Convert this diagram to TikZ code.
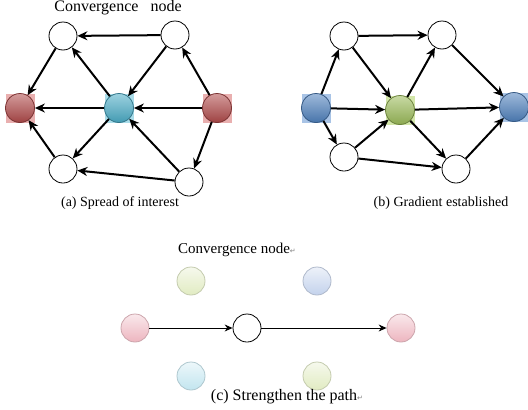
\documentclass[tikz,border=0pt]{standalone}
\usepackage{fontspec}
\setmainfont{Liberation Serif}
\newfontfamily\symfont{DejaVu Sans}
\usetikzlibrary{arrows.meta}
\definecolor{redball}{HTML}{B04A4A}
\definecolor{redsq}{HTML}{E9AFAF}
\definecolor{cyanball}{HTML}{4BACC6}
\definecolor{cyansq}{HTML}{A9DCE9}
\definecolor{blueball}{HTML}{4F81BD}
\definecolor{bluesq}{HTML}{A9C4E6}
\definecolor{greenball}{HTML}{9BBB59}
\definecolor{greensq}{HTML}{D3E6A9}
\definecolor{pinkpale}{HTML}{EDB5BF}
\definecolor{greenpale}{HTML}{E1EBC2}
\definecolor{bluepale}{HTML}{C3D2EC}
\definecolor{cyanpale}{HTML}{C2E5EF}
\newcommand{\retmark}{{\symfont\fontsize{7}{7}\selectfont\color{gray}↵}}

\begin{document}
\begin{tikzpicture}[x=1pt, y=-1pt,
      wnode/.style={draw, circle, thick, minimum size=28pt, inner sep=0pt, fill=white},
      ball/.style={draw=#1!70!black, circle, thick, minimum size=29pt, inner sep=0pt,
                   top color=#1!55!white, bottom color=#1!90!black},
      pale/.style={draw=#1!70!gray, circle, thick, minimum size=28pt, inner sep=0pt,
                   top color=#1!30!white, bottom color=#1},
      sq/.style={rectangle, minimum size=29pt, inner sep=0pt, fill=#1},
      arr/.style={-{Stealth[length=10pt, width=9pt]}, line width=2pt},
      thinarr/.style={-{Stealth[length=8pt, width=7pt]}, line width=0.9pt},
      lbl/.style={font=\fontsize{14}{16}\selectfont}
    ]
    \useasboundingbox (0,0) rectangle (528,410);

    % (a) spread of interest
    \node[sq=redsq]  (a-lsq) at (20,108)  {};
    \node[sq=cyansq] (a-csq) at (119,108) {};
    \node[sq=redsq]  (a-rsq) at (217,108) {};
    \node[wnode] (a-tl) at (63,36)   {};
    \node[wnode] (a-tr) at (175,35)  {};
    \node[ball=redball]  (a-l) at (20,108)  {};
    \node[ball=cyanball] (a-c) at (119,108) {};
    \node[ball=redball]  (a-r) at (217,108) {};
    \node[wnode] (a-bl) at (63,169)  {};
    \node[wnode] (a-br) at (189,182) {};
    \node[font=\fontsize{16}{18}\selectfont] (a-title) at (118,8) {Convergence\hspace{12pt}node};
    \node[lbl] (a-cap) at (120,203) {(a) Spread of interest};

    \draw[arr] (a-tr) -- (a-tl);
    \draw[arr] (a-tl) -- (a-l);
    \draw[arr] (a-tr) -- (a-c);
    \draw[arr] (a-c)  -- (a-tl);
    \draw[arr] (a-r)  -- (a-tr);
    \draw[arr] (a-c)  -- (a-l);
    \draw[arr] (a-r)  -- (a-c);
    \draw[arr] (a-c)  -- (a-bl);
    \draw[arr] (a-bl) -- (a-l);
    \draw[arr] (a-br) -- (a-bl);
    \draw[arr] (a-br) -- (a-c);
    \draw[arr] (a-r)  -- (a-br);

    % (b) gradient established
    \node[sq=bluesq]  (b-lsq) at (316,108) {};
    \node[sq=greensq] (b-csq) at (400,110) {};
    \node[sq=bluesq]  (b-rsq) at (514,107) {};
    \node[wnode] (b-tl) at (344,36)  {};
    \node[wnode] (b-tr) at (442,35)  {};
    \node[ball=blueball]  (b-l) at (316,108) {};
    \node[ball=greenball] (b-c) at (400,110) {};
    \node[ball=blueball]  (b-r) at (514,107) {};
    \node[wnode] (b-bl) at (344,157) {};
    \node[wnode] (b-br) at (456,169) {};
    \node[lbl] (b-cap) at (441,203) {(b) Gradient established};

    \draw[arr] (b-l)  -- (b-tl);
    \draw[arr] (b-tl) -- (b-tr);
    \draw[arr] (b-tl) -- (b-c);
    \draw[arr] (b-tr) -- (b-r);
    \draw[arr] (b-c)  -- (b-tr);
    \draw[arr] (b-l)  -- (b-c);
    \draw[arr] (b-c)  -- (b-r);
    \draw[arr] (b-l)  -- (b-bl);
    \draw[arr] (b-bl) -- (b-c);
    \draw[arr] (b-c)  -- (b-br);
    \draw[arr] (b-bl) -- (b-br);
    \draw[arr] (b-br) -- (b-r);

    % (c) strengthen the path
    \node[font=\fontsize{15}{17}\selectfont] (c-title) at (237,250) {Convergence node\retmark};
    \node[pale=greenpale] (c-tl) at (191,281) {};
    \node[pale=bluepale]  (c-tr) at (317,281) {};
    \node[pale=pinkpale]  (c-l)  at (135,328) {};
    \node[draw, circle, thick, minimum size=28pt, inner sep=0pt] (c-c) at (247,328) {};
    \node[pale=pinkpale]  (c-r)  at (401,328) {};
    \node[pale=cyanpale]  (c-bl) at (191,376) {};
    \node[pale=greenpale] (c-br) at (317,376) {};
    \node[font=\fontsize{16}{18}\selectfont] (c-cap) at (287,397) {(c) Strengthen the path\retmark};

    \draw[thinarr] (c-l) -- (c-c);
    \draw[thinarr] (c-c) -- (c-r);
  \end{tikzpicture}
\end{document}
